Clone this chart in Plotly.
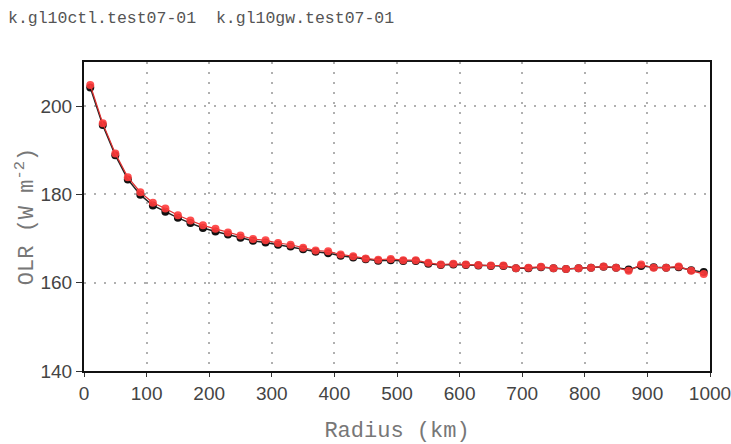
import plotly.graph_objects as go

radius = list(range(10, 1000, 20))

olr_gw = [204.8, 196.1, 189.3, 183.9, 180.5, 178.1, 176.8, 175.3, 174.1, 173.0,
          172.2, 171.4, 170.7, 169.9, 169.6, 169.0, 168.6, 167.9, 167.3, 167.1,
          166.4, 166.0, 165.5, 165.2, 165.4, 165.1, 165.1, 164.5, 164.1, 164.3,
          164.1, 164.0, 163.9, 163.9, 163.3, 163.4, 163.6, 163.3, 163.1, 163.3,
          163.4, 163.7, 163.4, 162.7, 164.1, 163.4, 163.4, 163.7, 162.7, 162.0]

olr_ctl = [204.2, 195.7, 188.9, 183.4, 179.9, 177.5, 176.1, 174.7, 173.5, 172.4,
           171.6, 170.9, 170.2, 169.5, 169.1, 168.6, 168.2, 167.6, 167.0, 166.7,
           166.1, 165.7, 165.3, 165.0, 165.1, 164.9, 164.9, 164.3, 164.0, 164.1,
           164.0, 163.9, 163.8, 163.8, 163.3, 163.3, 163.5, 163.3, 163.1, 163.3,
           163.4, 163.6, 163.4, 163.0, 163.8, 163.5, 163.4, 163.5, 162.8, 162.4]

x_ticks = [0, 100, 200, 300, 400, 500, 600, 700, 800, 900, 1000]
y_ticks = [140, 160, 180, 200]

fig = go.Figure()
fig.add_trace(go.Scatter(
    x=radius, y=olr_ctl, mode="lines+markers", name="k.gl10ctl.test07-01",
    line=dict(color="#222222", width=1.5),
    marker=dict(color="#111111", size=8, line=dict(width=0)),
))
fig.add_trace(go.Scatter(
    x=radius, y=olr_gw, mode="lines+markers", name="k.gl10gw.test07-01",
    line=dict(color="#e03030", width=1.2),
    marker=dict(color="#ff3b3b", size=8, opacity=0.9, line=dict(width=0)),
))

tick_font = dict(family="Liberation Sans, Arial, sans-serif", size=19, color="#444444")
title_font = dict(family="Liberation Mono, monospace", size=22, color="#777777")

fig.update_layout(
    width=731, height=444,
    margin=dict(l=84, r=21, t=62, b=73, autoexpand=False),
    paper_bgcolor="white", plot_bgcolor="white",
    showlegend=False,
    title=dict(
        text="k.gl10ctl.test07-01  k.gl10gw.test07-01",
        xref="container", yref="container", x=8 / 731, y=1 - 17 / 444,
        xanchor="left", yanchor="middle",
        font=dict(family="Liberation Mono, monospace", size=16.5, color="#555555"),
    ),
)

fig.update_xaxes(
    range=[0, 1000], tickvals=x_ticks, ticktext=[str(v) for v in x_ticks],
    showgrid=True, gridcolor="#b0b0b0", griddash="1.5px,8.5px", gridwidth=1.5,
    showline=True, linecolor="#111111", linewidth=2, mirror=True,
    ticks="outside", ticklen=4, tickcolor="#333333",
    tickfont=tick_font, zeroline=False, automargin=False,
    ticklabeloverflow="allow",
    title=dict(text="Radius (km)", font=title_font, standoff=20),
)
fig.update_yaxes(
    range=[140, 210], tickvals=y_ticks, ticktext=[str(v) for v in y_ticks],
    showgrid=True, gridcolor="#b0b0b0", griddash="1.5px,8.5px", gridwidth=1.5,
    showline=True, linecolor="#111111", linewidth=2, mirror=True,
    ticks="outside", ticklen=6, tickcolor="#333333",
    tickfont=tick_font, zeroline=False, automargin=False,
    ticklabeloverflow="allow",
    title=dict(text="OLR (W m<sup>-2</sup>)", font=title_font, standoff=0),
)

fig.write_html("out.html")
